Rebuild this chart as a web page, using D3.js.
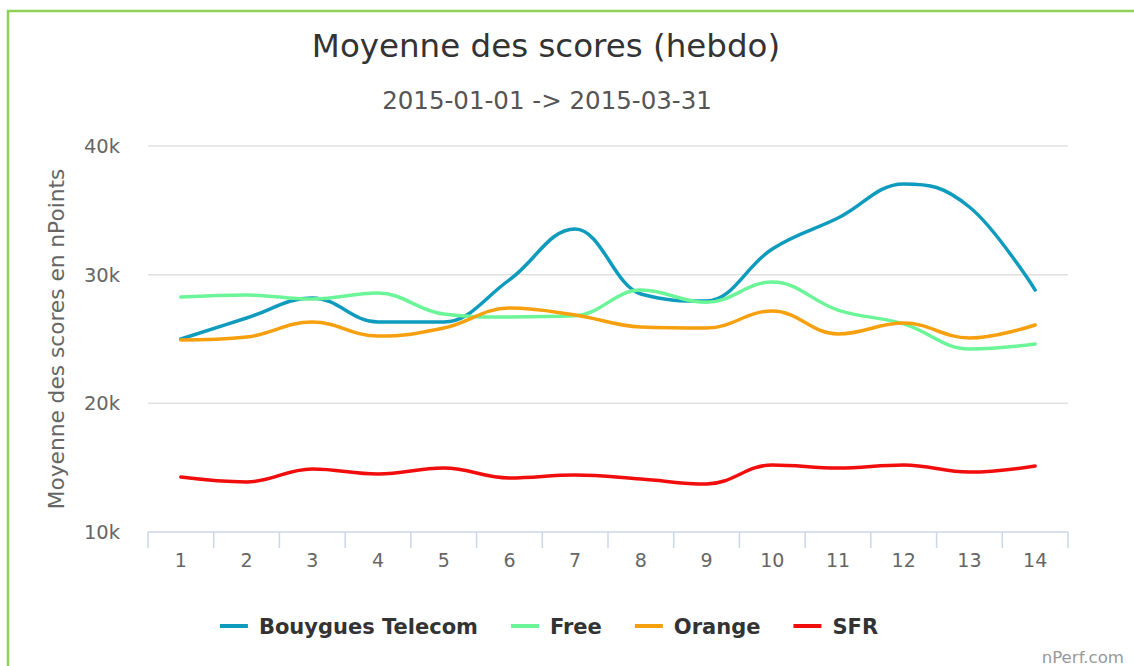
<!doctype html>
<head>
  <style>
    html, body { margin: 0; padding: 0; background: #fff; }
    svg text { font-family: "DejaVu Sans", sans-serif; }
  </style>
  <script src="https://d3js.org/d3.v7.min.js"></script>
</head>
<body>
  <svg id="chart" width="1134" height="666"></svg>
  <script>
    var weeks = [1, 2, 3, 4, 5, 6, 7, 8, 9, 10, 11, 12, 13, 14];
    var bouygues = [25000, 26630, 28190, 26320, 26320, 29600, 33550, 28500, 27950, 32000, 34400, 37050, 35260, 28800];
    var free     = [28260, 28420, 28100, 28570, 26940, 26710, 26800, 28800, 27850, 29430, 27250, 26170, 24220, 24610];
    var orange   = [24920, 25150, 26320, 25230, 25850, 27410, 26870, 25930, 25850, 27180, 25390, 26240, 25080, 26090];
    var sfr      = [14270, 13890, 14900, 14510, 14970, 14200, 14430, 14120, 13730, 15210, 14970, 15210, 14660, 15130];
    var yTicks = [10000, 20000, 30000, 40000];

    var seriesNames = ['Bouygues Telecom', 'Free', 'Orange', 'SFR'];
    var seriesColors = ['#0f9bbd', '#6cf598', '#f7a00f', '#f20d0d'];
    var seriesData = [bouygues, free, orange, sfr];

    var svg = d3.select('#chart');

    // green frame round the chart
    svg.append('rect')
        .attr('x', 8).attr('y', 11)
        .attr('width', 1140).attr('height', 680)
        .attr('fill', 'none')
        .attr('stroke', '#8fd154')
        .attr('stroke-width', 2.5);

    var plotLeft = 148, plotRight = 1068, plotTop = 146, plotBottom = 532;

    var x = d3.scaleBand().domain(weeks).range([plotLeft, plotRight]);
    var y = d3.scaleLinear().domain([10000, 40000]).range([plotBottom, plotTop]);

    svg.append('text')
        .attr('x', 546).attr('y', 57)
        .attr('text-anchor', 'middle')
        .attr('fill', '#333')
        .style('font-size', '32.5px')
        .text('Moyenne des scores (hebdo)');

    svg.append('text')
        .attr('x', 547).attr('y', 109)
        .attr('text-anchor', 'middle')
        .attr('fill', '#555')
        .style('font-size', '24.5px')
        .text('2015-01-01 -> 2015-03-31');

    // grid lines
    svg.append('g').selectAll('line')
        .data(yTicks.slice(1))
        .enter().append('line')
        .attr('x1', plotLeft).attr('x2', plotRight)
        .attr('y1', function(d) { return y(d); })
        .attr('y2', function(d) { return y(d); })
        .attr('stroke', '#e0e0e0')
        .attr('stroke-width', 1.5);

    svg.append('g').selectAll('text')
        .data(yTicks)
        .enter().append('text')
        .attr('x', 120)
        .attr('y', function(d) { return y(d) + 7; })
        .attr('text-anchor', 'end')
        .attr('fill', '#666')
        .style('font-size', '19.5px')
        .text(function(d) { return (d / 1000) + 'k'; });

    svg.append('text')
        .attr('transform', 'translate(64,339) rotate(-90)')
        .attr('text-anchor', 'middle')
        .attr('fill', '#666')
        .style('font-size', '21.7px')
        .text('Moyenne des scores en nPoints');

    // x axis
    var xAxis = svg.append('g');
    xAxis.append('line')
        .attr('x1', plotLeft).attr('x2', plotRight)
        .attr('y1', plotBottom).attr('y2', plotBottom)
        .attr('stroke', '#ccd6eb').attr('stroke-width', 1.5);
    xAxis.selectAll('line.tick')
        .data(weeks.concat([null]))
        .enter().append('line')
        .attr('class', 'tick')
        .attr('x1', function(d) { return d === null ? plotRight : x(d); })
        .attr('x2', function(d) { return d === null ? plotRight : x(d); })
        .attr('y1', plotBottom).attr('y2', plotBottom + 16)
        .attr('stroke', '#ccd6eb').attr('stroke-width', 1.5);
    xAxis.selectAll('text')
        .data(weeks)
        .enter().append('text')
        .attr('x', function(d) { return x(d) + x.bandwidth() / 2; })
        .attr('y', 567)
        .attr('text-anchor', 'middle')
        .attr('fill', '#666')
        .style('font-size', '19px')
        .text(function(d) { return d; });

    // highcharts style spline
    function spline(values) {
      var pts = values.map(function(v, i) {
        return { x: x(weeks[i]) + x.bandwidth() / 2, y: y(v) };
      });
      var s = 1.5, den = s + 1;
      var path = d3.path();
      pts.forEach(function(p, i) {
        var last = pts[i - 1], next = pts[i + 1];
        var lcx = p.x, lcy = p.y;
        if (last && next) {
          lcx = (s * p.x + last.x) / den;
          lcy = (s * p.y + last.y) / den;
          var rcx = (s * p.x + next.x) / den;
          var rcy = (s * p.y + next.y) / den;
          var corr = 0;
          if (rcx !== lcx) corr = ((rcy - lcy) * (rcx - p.x)) / (rcx - lcx) + p.y - rcy;
          lcy += corr; rcy += corr;
          if (lcy > last.y && lcy > p.y) { lcy = Math.max(last.y, p.y); rcy = 2 * p.y - lcy; }
          else if (lcy < last.y && lcy < p.y) { lcy = Math.min(last.y, p.y); rcy = 2 * p.y - lcy; }
          if (rcy > next.y && rcy > p.y) { rcy = Math.max(next.y, p.y); lcy = 2 * p.y - rcy; }
          else if (rcy < next.y && rcy < p.y) { rcy = Math.min(next.y, p.y); lcy = 2 * p.y - rcy; }
          p.rcx = rcx; p.rcy = rcy;
        }
        if (!last) path.moveTo(p.x, p.y);
        else path.bezierCurveTo(
            last.rcx !== undefined ? last.rcx : last.x,
            last.rcy !== undefined ? last.rcy : last.y,
            lcx, lcy, p.x, p.y);
      });
      return path.toString();
    }

    svg.append('g').selectAll('path')
        .data(seriesData)
        .enter().append('path')
        .attr('d', spline)
        .attr('fill', 'none')
        .attr('stroke', function(d, i) { return seriesColors[i]; })
        .attr('stroke-width', 3.5)
        .attr('stroke-linejoin', 'round')
        .attr('stroke-linecap', 'round');

    // legend
    var legend = svg.append('g');
    var items = legend.selectAll('g')
        .data(seriesNames)
        .enter().append('g');
    items.append('line')
        .attr('x1', 0).attr('x2', 28)
        .attr('y1', 0).attr('y2', 0)
        .attr('stroke', function(d, i) { return seriesColors[i]; })
        .attr('stroke-width', 4);
    items.append('text')
        .attr('x', 39).attr('y', 8)
        .attr('fill', '#333')
        .style('font-size', '21px')
        .style('font-weight', 'bold')
        .text(function(d) { return d; });
    var pos = 0, offsets = [];
    items.each(function() {
      offsets.push(pos);
      pos += this.getBBox().width + 33;
    });
    pos -= 33;
    var startX = 549 - pos / 2;
    items.attr('transform', function(d, i) { return 'translate(' + (startX + offsets[i]) + ',626)'; });

    svg.append('text')
        .attr('x', 1124).attr('y', 663)
        .attr('text-anchor', 'end')
        .attr('fill', '#999')
        .style('font-size', '16.6px')
        .text('nPerf.com');
  </script>
</body>
